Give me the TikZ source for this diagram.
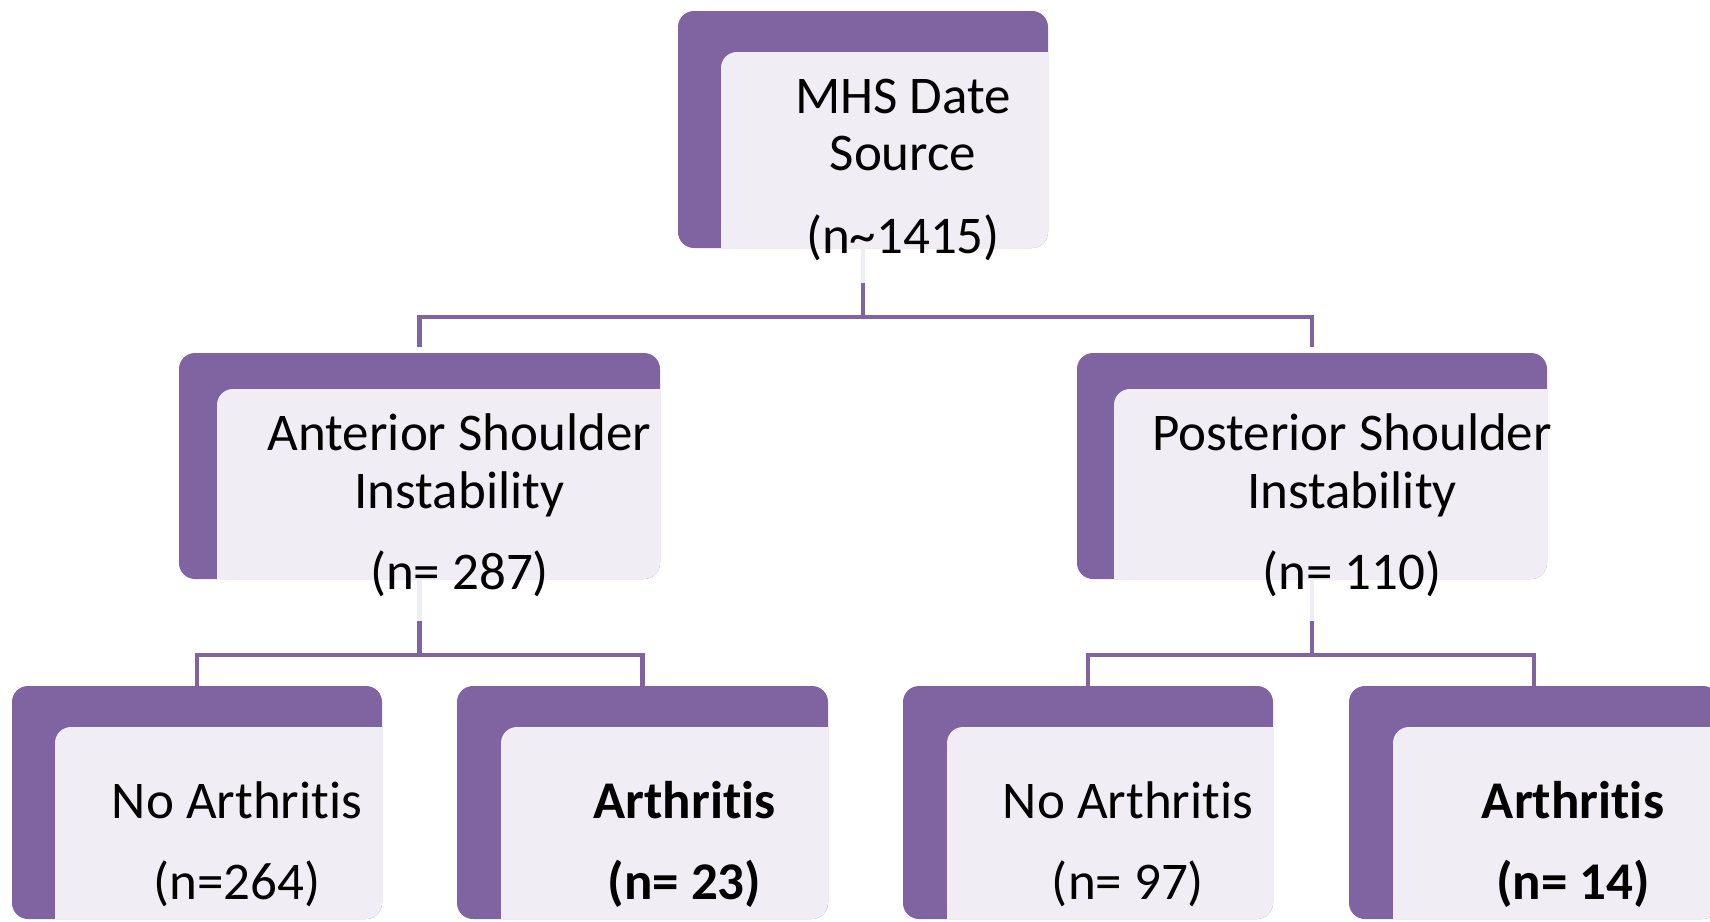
\documentclass[tikz,border=0pt]{standalone}
\usepackage{fontspec}
\setmainfont{Carlito}[Ligatures=NoCommon]
\definecolor{boxpurple}{HTML}{8064A2}
\definecolor{boxlight}{HTML}{F0EEF4}

\begin{document}
\begin{tikzpicture}[
  x=1pt,y=-1pt,
  box/.style 2 args={fill=boxpurple,rounded corners=16pt,outer sep=0pt,inner sep=0pt,
    path picture={\fill[boxlight,rounded corners=16pt] ([xshift=#1,yshift=-#2]path picture bounding box.north west) rectangle ([xshift=30pt,yshift=-30pt]path picture bounding box.south east);}},
  txt/.style={anchor=base,align=center,font=\fontsize{53pt}{57.5pt}\selectfont},
  txtbold/.style={txt,font=\fontsize{53pt}{57.5pt}\selectfont\bfseries},
  link/.style={draw=boxpurple,line width=4.5pt},
  stub/.style={draw=boxlight,line width=4.5pt}
]
\useasboundingbox (0,0) rectangle (1710,921);
\fill[white] (0,0) rectangle (1710,921);
\clip (0,0) rectangle (1710,921);

% boxes
\node[box={43pt}{41pt},minimum width=370pt,minimum height=237pt] (mhs) at (863,129.5) {};
\node[box={38pt}{36pt},minimum width=481pt,minimum height=226pt] (ant) at (419.5,466) {};
\node[box={37pt}{36pt},minimum width=470pt,minimum height=226pt] (pos) at (1312,466) {};
\node[box={43pt}{41pt},minimum width=370pt,minimum height=233pt] (antno) at (197,802.5) {};
\node[box={44pt}{41pt},minimum width=371pt,minimum height=233pt] (antyes) at (642.5,802.5) {};
\node[box={44pt}{41pt},minimum width=370pt,minimum height=233pt] (posno) at (1088,802.5) {};
\node[box={44pt}{41pt},minimum width=370pt,minimum height=233pt] (posyes) at (1534,802.5) {};

% connectors
\coordinate (mhsbar) at ([yshift=-69pt]mhs.south);
\draw[stub] (mhs.south) -- ++(0,35) coordinate (mhsstub);
\draw[link] (mhsstub) -- (mhsbar);
\draw[link,shorten <=6pt,shorten >=6pt] (ant.north) |- (mhsbar) -| (pos.north);

\coordinate (antbar) at ([yshift=-76pt]ant.south);
\draw[stub] (ant.south) -- ++(0,42) coordinate (antstub);
\draw[link] (antstub) -- (antbar);
\draw[link] (antno.north) |- (antbar) -| (antyes.north);

\coordinate (posbar) at ([yshift=-76pt]pos.south);
\draw[stub] (pos.south) -- ++(0,42) coordinate (posstub);
\draw[link] (posstub) -- (posbar);
\draw[link] (posno.north) |- (posbar) -| (posyes.north);

% texts (base = last line)
\node[txt] (mhstxt) at ([xshift=40pt,yshift=-242pt]mhs.north) {MHS Date\\Source\\[25pt](n\textasciitilde1415)};
\node[txt] (anttxt) at ([xshift=40pt,yshift=-236pt]ant.north) {Anterior Shoulder\\Instability\\[23.5pt](n= 287)};
\node[txt] (postxt) at ([xshift=40pt,yshift=-236pt]pos.north) {Posterior Shoulder\\Instability\\[23.5pt](n= 110)};
\node[txt] (antnotxt) at ([xshift=40pt,yshift=-213pt]antno.north) {No Arthritis\\[23.5pt](n=264)};
\node[txtbold] (antyestxt) at ([xshift=42pt,yshift=-213pt]antyes.north) {Arthritis\\[23.5pt](n= 23)};
\node[txt] (posnotxt) at ([xshift=40pt,yshift=-213pt]posno.north) {No Arthritis\\[23.5pt](n= 97)};
\node[txtbold] (posyestxt) at ([xshift=39pt,yshift=-213pt]posyes.north) {Arthritis\\[23.5pt](n= 14)};
\end{tikzpicture}
\end{document}
